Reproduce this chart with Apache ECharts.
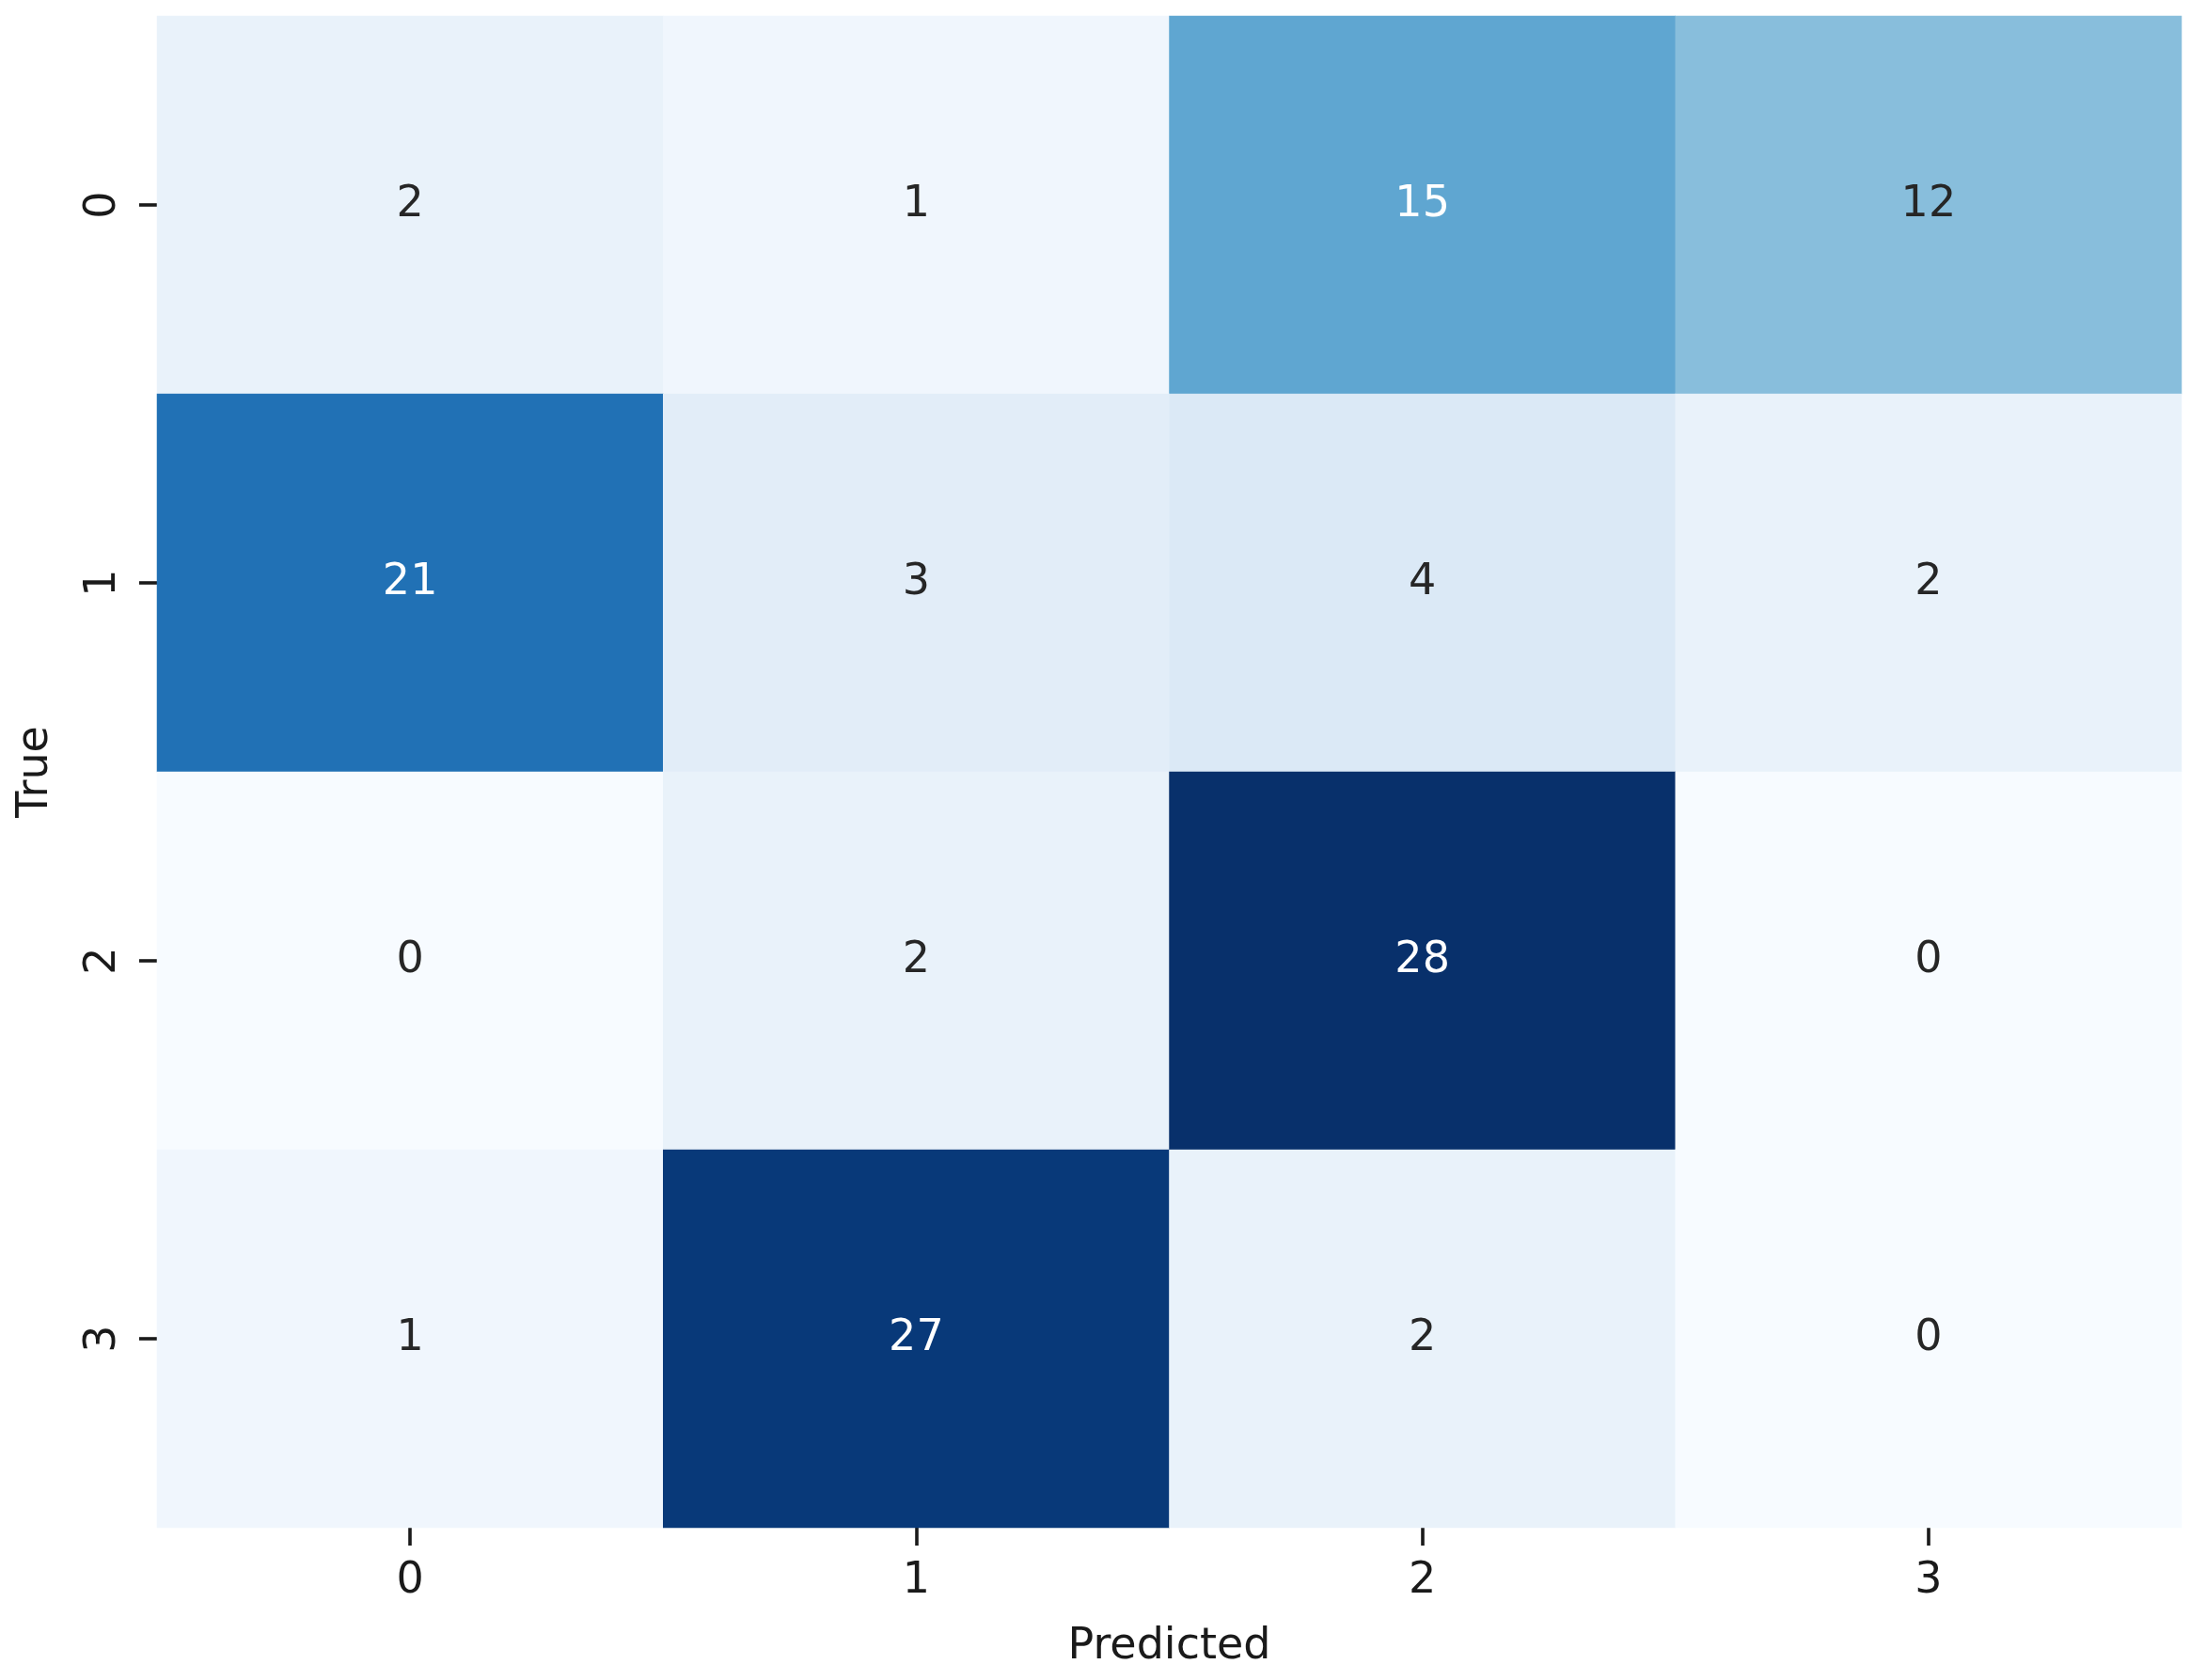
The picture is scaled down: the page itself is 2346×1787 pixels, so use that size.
<!DOCTYPE html>
<html>
<head>
<meta charset="utf-8">
<script src="https://cdn.jsdelivr.net/npm/echarts@6/dist/echarts.min.js"></script>
<style>
  html, body { margin: 0; padding: 0; background: #fff; }
  #main { width: 2346px; height: 1787px; }
</style>
</head>
<body>
<div id="main"></div>
<script>
// 类别（预测 / 真实）
const predLabels = ['0', '1', '2', '3'];
const trueLabels = ['0', '1', '2', '3'];

// 混淆矩阵，每行是一个真实类别
const row0 = [2, 1, 15, 12];
const row1 = [21, 3, 4, 2];
const row2 = [0, 2, 28, 0];
const row3 = [1, 27, 2, 0];
const matrix = [row0, row1, row2, row3];

// matplotlib Blues 色带
const blues = ['#f7fbff', '#deebf7', '#c6dbef', '#9ecae1', '#6baed6',
               '#4292c6', '#2171b5', '#08519c', '#08306b'];

const vmin = 0;
const vmax = 28;
const font = 'DejaVu Sans';

// 热力图数据 [x, y, 值]，深色格子用白字
const cells = [];
matrix.forEach((row, y) => {
  row.forEach((v, x) => {
    cells.push({
      value: [x, y, v],
      label: { color: v >= 13 ? '#ffffff' : '#262626' }
    });
  });
});

const chart = echarts.init(document.getElementById('main'), null, { renderer: 'canvas' });

chart.setOption({
  backgroundColor: '#ffffff',
  animation: false,
  grid: { left: 167, right: 26, top: 17, bottom: 162 },
  xAxis: {
    type: 'category',
    data: predLabels,
    name: 'Predicted',
    nameLocation: 'middle',
    nameGap: 104,
    nameTextStyle: { fontFamily: font, fontSize: 46, color: '#1a1a1a' },
    axisLine: { show: false },
    axisTick: { show: true, alignWithLabel: true, length: 19, lineStyle: { color: '#1a1a1a', width: 3.6 } },
    axisLabel: { margin: 34, fontFamily: font, fontSize: 46, color: '#1a1a1a' },
    splitLine: { show: false },
    splitArea: { show: false }
  },
  yAxis: {
    type: 'category',
    data: trueLabels,
    inverse: true,
    name: 'True',
    nameLocation: 'middle',
    nameGap: 106,
    nameRotate: 90,
    nameTextStyle: { fontFamily: font, fontSize: 46, color: '#1a1a1a' },
    axisLine: { show: false },
    axisTick: { show: true, alignWithLabel: true, length: 19, lineStyle: { color: '#1a1a1a', width: 3.6 } },
    axisLabel: { rotate: 90, margin: 34, fontFamily: font, fontSize: 46, color: '#1a1a1a' },
    splitLine: { show: false },
    splitArea: { show: false }
  },
  visualMap: {
    show: false,
    min: vmin,
    max: vmax,
    dimension: 2,
    inRange: { color: blues }
  },
  series: [{
    type: 'heatmap',
    data: cells,
    itemStyle: { borderWidth: 0 },
    label: {
      show: true,
      fontFamily: font,
      fontSize: 46,
      formatter: p => String(p.value[2])
    },
    emphasis: { disabled: true }
  }]
});
</script>
</body>
</html>
